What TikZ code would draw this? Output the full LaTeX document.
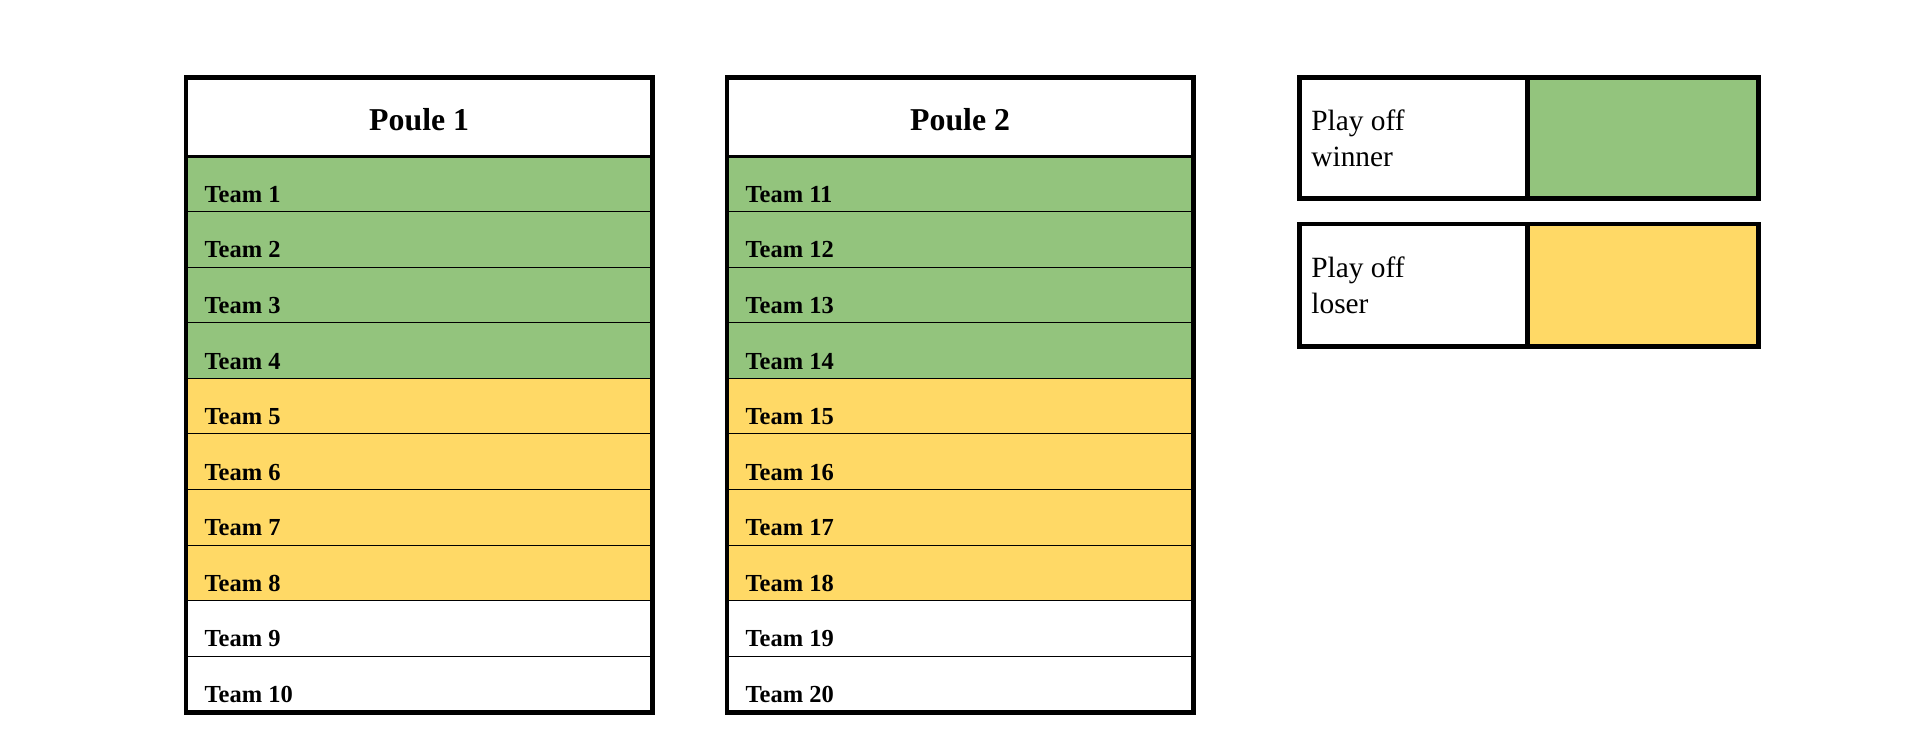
\documentclass[tikz,border=0pt]{standalone}
\usepackage{fontspec}
\setmainfont{Liberation Serif}
\definecolor{gw}{HTML}{93C47D}
\definecolor{yl}{HTML}{FFD966}
\tikzset{x=1pt,y=-1pt,
 cellbox/.style={draw=black,line width=1.6pt},
 outer/.style={draw=black,line width=4pt,line join=miter},
 teamtxt/.style={anchor=base west,font=\bfseries\fontsize{20}{22}\selectfont,inner sep=0},
 headtxt/.style={font=\bfseries\fontsize{26}{28}\selectfont},
 legtxt/.style={anchor=west,align=left,font=\fontsize{24}{29}\selectfont}}
\begin{document}
\begin{tikzpicture}
\useasboundingbox (0,0) rectangle (1568,614);
\foreach \X/\off/\p in {152/0/1,594/10/2}{
  \pgfmathsetmacro{\R}{\X+381}
  \node[headtxt] (h\p) at ({(\X+\R)/2},98) {Poule \p};
  \foreach \i in {1,...,10}{
    \pgfmathsetmacro{\top}{128+(\i-1)*45.4}
    \pgfmathsetmacro{\bot}{128+\i*45.4}
    \ifnum\i<5 \def\c{gw}\else\ifnum\i<9 \def\c{yl}\else\def\c{white}\fi\fi
    \fill[\c] (\X,\top) rectangle (\R,\bot);
    \draw[line width=1.6pt] (\X,\bot) -- (\R,\bot);
    \pgfmathtruncatemacro{\n}{\i+\off}
    \node[teamtxt] (t\n) at (\X+15,\bot-8) {Team \n};
  }
  \draw[line width=3pt] (\X,128) -- (\R,128);
  \draw[outer] (\X,63) rectangle (\R,582);
}
\fill[gw] (1248,63) rectangle (1437,162);
\fill[yl] (1248,183) rectangle (1437,283);
\draw[outer] (1062,63) rectangle (1437,162);
\draw[outer] (1062,183) rectangle (1437,283);
\draw[line width=4pt] (1248,63) -- (1248,162);
\draw[line width=4pt] (1248,183) -- (1248,283);
\node[legtxt] (lw) at (1068,113) {Play off\\winner};
\node[legtxt] (ll) at (1068,233) {Play off\\loser};
\end{tikzpicture}
\end{document}
